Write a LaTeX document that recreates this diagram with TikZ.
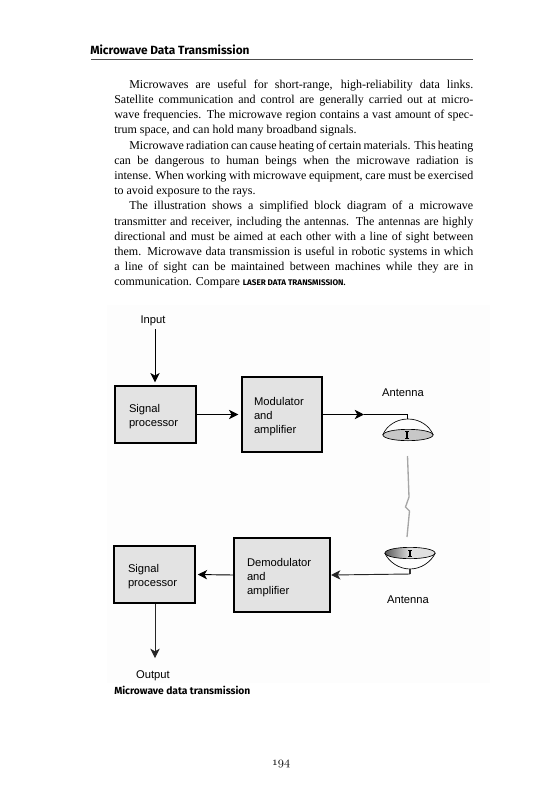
\documentclass[tikz,border=0pt]{standalone}
\usepackage{fontspec}
\usetikzlibrary{arrows.meta}
\usetikzlibrary{shapes}
\newfontfamily\bodyfont{Liberation Serif}
\newfontfamily\headfont{Fira Sans}
\newfontfamily\labelfont{Liberation Sans}
\newcommand{\boxstrut}{\rule{0pt}{9.5pt}}

\begin{document}
\begin{tikzpicture}[x = 0.75pt, y = -0.75pt]
\tikzstyle{BoxStyle}=[shape = rectangle,
                         draw,
                         line width = 1.6pt,
                         fill = black!11,
                         inner xsep = 0pt,
                         align = left,
                         font = \labelfont\fontsize{8.4}{10.5}\selectfont]
\tikzstyle{LabelStyle}=[font = \labelfont\fontsize{8.4}{10.4}\selectfont, inner sep = 0pt]
\tikzstyle{CaptionStyle}=[font = \headfont\bfseries\fontsize{7.7}{9}\selectfont, inner sep = 0pt]
\tikzstyle{FlowStyle}=[line width = 0.7pt, -{Stealth[length = 7pt, width = 7pt, inset = 2pt]}]
\tikzstyle{DishStyle}=[shape = ellipse, draw, line width = 0.5pt, inner sep = 0pt,
                         minimum width = 37.5pt, minimum height = 8.5pt]
\tikzstyle{FeedStyle}=[line width = 1pt, {Bar[width = 3pt, length = 0pt]}-{Bar[width = 3pt, length = 0pt]}]
\useasboundingbox (0, 0) rectangle (548, 800);
\fill[white!99.3!black] (107, 305) rectangle (490, 683);
% page head and text
\node[font = \headfont\bfseries\fontsize{8.9}{11}\selectfont, inner sep = 0pt, anchor = west] (head) at (90, 50) {Microwave Data Transmission};
\coordinate (rule0) at (91, 59);
\coordinate (rule1) at (473, 59);
\draw[line width = 0.4pt, black!70] (rule0) -- (rule1);
\node[font = \bodyfont\fontsize{9}{11.4}\selectfont, inner sep = 0pt, anchor = north west,
      text width = 269.25pt, align = justify] (body) at (114, 79.5) {%
\hyphenpenalty=10000 \exhyphenpenalty=10000 \tolerance=9999
\hspace*{11.25pt}Microwaves are useful for short-range, high-reliability data links.\linebreak
Satellite communication and control are generally carried out at micro-\linebreak
wave frequencies. The microwave region contains a vast amount of spec-\linebreak
trum space, and can hold many broadband signals.\par
\hspace*{11.25pt}Microwave radiation can cause heating of certain materials. This heating\linebreak
can be dangerous to human beings when the microwave radiation is\linebreak
intense. When working with microwave equipment, care must be exercised\linebreak
to avoid exposure to the rays.\par
\hspace*{11.25pt}The illustration shows a simplified block diagram of a microwave\linebreak
transmitter and receiver, including the antennas. The antennas are highly\linebreak
directional and must be aimed at each other with a line of sight between\linebreak
them. Microwave data transmission is useful in robotic systems in which\linebreak
a line of sight can be maintained between machines while they are in\linebreak
communication. Compare {\headfont\bfseries\fontsize{6.1}{8}\selectfont LASER DATA TRANSMISSION.}};
% blocks
\node[BoxStyle, minimum width = 60.75pt, minimum height = 42.75pt, text width = 39.75pt] (sp0) at (155.5, 414.5) {\boxstrut Signal\\processor};
\node[BoxStyle, minimum width = 60pt, minimum height = 56.25pt, text width = 42pt] (mod) at (282, 414.5) {\boxstrut Modulator\\and\\amplifier};
\node[BoxStyle, minimum width = 72pt, minimum height = 55.5pt, text width = 52.5pt] (dem) at (282, 575) {\boxstrut Demodulator\\and\\amplifier};
\node[BoxStyle, line width = 1.2pt, minimum width = 60.75pt, minimum height = 42.75pt, text width = 39.75pt] (sp1) at (154.5, 574.5) {\boxstrut Signal\\processor};
% labels
\node[LabelStyle] (in) at (153, 321) {Input};
\node[LabelStyle] (out) at (153, 676) {Output};
\node[LabelStyle] (ant0txt) at (403, 393) {Antenna};
\node[LabelStyle] (ant1txt) at (408, 600) {Antenna};
\node[CaptionStyle, anchor = west] (cap) at (114, 690) {Microwave data transmission};
\node[font = \fontsize{9}{10}\selectfont, inner sep = 0pt] (page) at (281, 764) {\usefont{OML}{cmm}{m}{it}194};
% antennas
\node[DishStyle, fill = black!22] (ant0) at (408, 435) {};
\draw[line width = 0.5pt] (ant0.west) .. controls (387, 425) and (397, 419) .. (408, 419) .. controls (419, 419) and (429, 425) .. (ant0.east);
\node[DishStyle, left color = black!65, right color = black!12, middle color = black!12] (ant1) at (410, 553) {};
\draw[line width = 0.5pt] (ant1.west) .. controls (389, 562) and (399, 569) .. (410, 569) .. controls (421, 569) and (431, 562) .. (ant1.east);
\coordinate (feed0a) at (407, 431);
\coordinate (feed0b) at (407, 439);
\coordinate (feed1a) at (410, 550);
\coordinate (feed1b) at (410, 557);
\draw[FeedStyle] (feed0a) -- (feed0b);
\draw[FeedStyle] (feed1a) -- (feed1b);
% connectors
\coordinate (infoot) at (155, 329);
\draw[FlowStyle, shorten > = 2pt] (infoot) -- (infoot |- sp0.north);
\draw[FlowStyle, shorten > = 2pt] (sp0.east) -- (mod.west);
\coordinate (txmid) at (364, 414.5);
\coordinate (txtop) at (407, 419);
\draw[FlowStyle] (mod.east) -- (txmid);
\draw[line width = 0.7pt] (txmid) -| (txtop);
\coordinate (rxbot) at (410, 569);
\coordinate (rxmid) at (410, 574);
\draw[line width = 1.1pt, black!80] (rxbot) -- (rxmid);
\draw[FlowStyle, black!85] (rxmid) -- (dem.east);
\draw[FlowStyle, shorten > = 1.5pt] (dem.west) -- (sp1.east);
\coordinate (outend) at (155, 658);
\draw[FlowStyle, black!85] (sp1.south -| outend) -- (outend);
% radio link
\coordinate (link0) at (407.5, 456);
\coordinate (link1) at (409, 497);
\coordinate (link2) at (405.5, 507);
\coordinate (link3) at (409.5, 511);
\coordinate (link4) at (407, 537);
\draw[line width = 1pt, black!35] (link0) -- (link1) -- (link2) -- (link3) -- (link4);
\end{tikzpicture}
\end{document}
